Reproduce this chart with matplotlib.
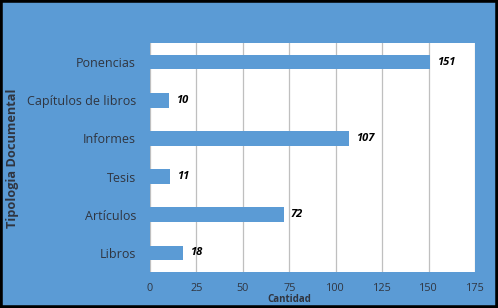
import matplotlib
matplotlib.use("Agg")
import matplotlib.pyplot as plt
from matplotlib.patches import Rectangle

categories = ["Libros", "Artículos", "Tesis", "Informes", "Capítulos de libros", "Ponencias"]
values = [18, 72, 11, 107, 10, 151]
xticks = [0, 25, 50, 75, 100, 125, 150, 175]

BLUE = "#5B9BD5"
TXT = "#303540"
plt.rcParams['font.family'] = ['Open Sans', 'DejaVu Sans']

fig = plt.figure(figsize=(4.98, 3.08), dpi=100)
fig.patch.set_facecolor(BLUE)
W, H = 498, 308
ax = fig.add_axes([150 / W, 1 - 272 / H, 325 / W, 229 / H])
ax.set_facecolor("white")
ax.barh(range(len(categories)), values, height=0.38, color=BLUE, zorder=3)
for i, v in enumerate(values):
    ax.annotate(str(v), (v, i), xytext=(5, 0), textcoords="offset points",
                va="center", ha="left", fontsize=8, fontweight="bold",
                fontstyle="italic", color="black", zorder=4)
ax.set_xlim(0, 175)
ax.set_ylim(-0.5, len(categories) - 0.5)
ax.set_xticks(xticks)
ax.set_yticks(range(len(categories)))
ax.set_yticklabels(categories)
ax.tick_params(axis="y", length=0, colors=TXT, labelsize=9, pad=10)
ax.tick_params(axis="x", length=0, colors=TXT, labelsize=7.8, pad=8)
ax.grid(axis="x", color="#BFBFBF", linewidth=0.9, zorder=0)
for s in ax.spines.values():
    s.set_visible(False)
ax.set_xlabel("Cantidad", fontsize=7, fontweight="bold", color=TXT)
ax.xaxis.set_label_coords(0.428, -0.095)
fig.text(13 / W, 1 - 158 / H, "Tipologia Documental", rotation=90, va="center",
         ha="center", fontsize=9.2, fontweight="bold", color=TXT)

fig.add_artist(Rectangle((0, 0), 1, 1, transform=fig.transFigure, fill=False,
                         edgecolor="black", linewidth=4, clip_on=False))
fig.savefig("out.png", dpi=100, facecolor=BLUE)
